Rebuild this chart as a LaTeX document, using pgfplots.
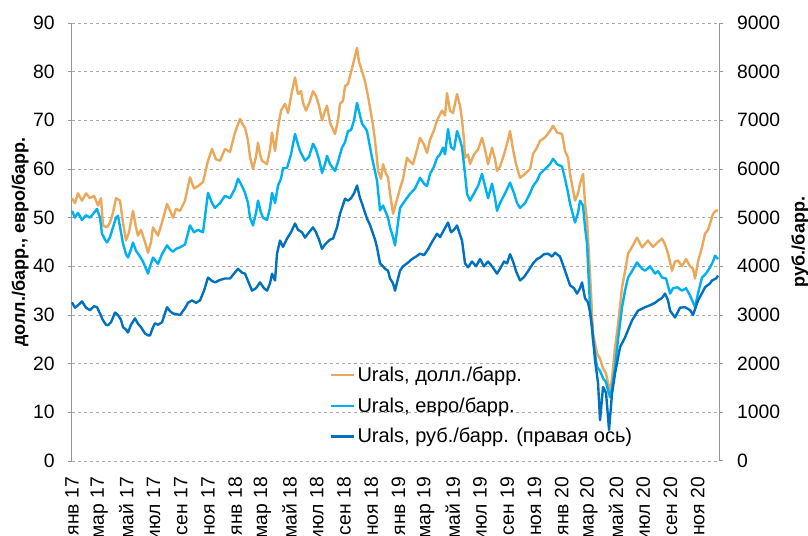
\documentclass[border=0pt]{standalone}
\usepackage{fontspec}
\setmainfont{Liberation Sans}
\usepackage{pgfplots}
\usepackage{pgfplotstable}
\pgfplotsset{compat=1.18}

\definecolor{uralsUsd}{RGB}{233,168,90}
\definecolor{uralsEur}{RGB}{0,176,240}
\definecolor{uralsRub}{RGB}{0,112,192}
\definecolor{gridGray}{RGB}{170,170,170}
\definecolor{axisGray}{RGB}{150,150,150}

% pos = horizontal position (72 = 1 Jan 2017, 13.6 per month)
\pgfplotstableread{
pos val
72 54
75 53
78 55
82 53.5
86 55
90 54
94 54.5
98 52.5
101 54
103 48.4
107 48
110 49
113 51
116 54
120 53.5
123 49
126 45.3
129 47
133 51.4
136 48
138 46.3
141 47.5
145 45
148 42.8
151 45
153 48
156 47
158 46.3
162 49
167 52.8
170 51.5
173 50
176 51.8
180 51.4
185 53.5
190 58.3
194 56
198 56.5
203 57.3
208 61.7
212 64.1
216 62
220 61.7
225 64.1
230 63.5
235 67.5
240 70.3
243 69
245 68.5
248 65.8
250 62.5
253 60
256 62.5
258 65.4
260 63
262 61.7
267 61
270 64
272 67.5
275 63.7
278 68.5
281 72
285 73.4
288 71.5
292 76
295 78.8
298 75.4
301 76
303 73.6
306 72
310 74
313 76
316 75
319 73
322 70
325 72
327 73
330 69.5
335 67.2
338 70
340 73.4
343 74
345 77
348 77.5
350 79.1
353 81.5
357 84.9
359 82
362 80.1
365 78
367 76
370 72.6
373 69
375 65.8
377 62
378 59.6
381 58
383 61
386 59
388 58.3
390 55
393 50.8
396 53
400 56
403 58
407 62.3
410 61.5
413 61
417 64
420 66.4
424 65
427 63.3
430 66
434 68
437 70
442 72
445 71
447 75.6
450 72
453 71.5
457 75.4
460 73
462 70
464 66
465 62.3
468 63
470 61
474 63
478 64
482 66.4
485 64
488 61
492 64.4
495 62
497 59.6
500 60.5
504 63
508 66
510 67.8
513 64
516 61
520 58.2
525 59
530 60
533 63.1
537 64.4
540 65.8
545 66.5
550 67.8
553 68.9
557 67.5
562 67.2
565 63.7
568 62.3
570 59
575 53.5
578 55
580 57
583 59
585 53
587 49.4
590 38.5
593 26.2
597 22.1
600 21
603 19
606 18
608 16
610 14.1
612 17
615 23.4
618 28
622 35.7
625 39
628 42.6
632 44
637 45.9
642 43.9
648 45.3
653 44
658 45
662 45.7
665 44.5
668 42.6
672 39.1
675 41
678 41.2
682 40
686 41.5
690 40
693 39.5
695 37.5
698 41
702 44
705 46.7
708 47.5
710 48.8
713 50.8
716 51.5
718 51.4
}\usdtable

\pgfplotstableread{
pos val
72 51.4
75 50
78 51
82 49.5
86 50.5
90 50
94 51
97 51.8
100 50
102 46.7
105 45.5
107 44.9
110 46
113 48
116 50
118 50.4
121 47
123 44.7
126 42.5
128 41.8
131 43.5
133 44.9
136 43.2
140 42
143 41
146 39.5
148 38.5
150 40
153 41.8
156 41
158 40.5
162 42.5
167 44.3
170 43.5
173 43
176 43.6
180 43.9
185 44.5
190 48.4
194 47
198 47.5
203 47
208 55.1
212 53
215 52
220 53
225 54.5
230 54
235 56
238 58
242 56.5
245 55.1
248 53
250 50
253 48.4
256 51
258 53.5
261 51
263 50
267 49.5
270 52
272 55.1
275 53
278 56.6
281 58
283 60.2
287 60.2
291 63
295 67.2
298 65
300 63.7
303 62.5
305 61.7
309 62.5
313 65.2
316 64
319 62
322 59.2
325 61
327 62.7
330 61
335 59.6
338 61.5
342 64.4
345 65.5
348 67.8
351 68
354 70
357 73.6
360 71
362 69.3
365 68.5
367 67.8
370 64.5
372 62.3
375 59.5
377 57.6
380 51.5
383 52.5
386 51
388 50
390 48
393 46
395 44.3
398 49
400 52
405 53.5
410 54.9
415 56
420 58.2
424 57
427 56.5
430 59
434 60.5
437 62.3
440 63
443 64.4
445 63
448 68.2
451 64.5
454 64
457 67.8
460 66
462 64.4
465 59
467 54.9
470 53.5
474 55
478 56.5
482 59
485 56.5
488 54
492 57
495 54
497 51.4
500 53
505 55
510 57.2
514 55
517 53
520 52
525 53
530 55
533 56.5
537 57.6
540 59
545 60
550 61
553 62.1
557 61
562 60.5
565 58
568 55.1
570 52.9
575 49
578 51
580 53.5
583 52.5
585 48
587 44.7
590 31.6
593 24.8
597 19.3
600 18.5
603 17
606 16.2
608 14.5
610 13.1
612 15
615 19.3
618 25
622 31.6
625 35
628 37.7
632 39
637 40.8
642 39.5
645 39.1
650 40
655 38.5
658 39
662 37.7
666 37.5
670 34.4
673 35.5
677 35.7
682 35
686 35.5
690 34
695 31.6
698 34.5
702 37.7
706 38.5
710 39.8
713 41
715 42.2
718 41.5
}\eurtable

\pgfplotstableread{
pos val
72 3260
75 3150
78 3200
82 3280
86 3150
90 3100
94 3180
97 3160
100 3030
103 2890
106 2800
108 2790
111 2850
115 3050
118 3000
121 2900
123 2750
126 2700
128 2640
131 2800
135 2930
138 2820
141 2750
145 2620
148 2580
150 2580
153 2750
155 2830
158 2800
162 2850
167 3160
170 3080
173 3030
176 3020
180 3000
185 3140
188 3250
192 3300
196 3250
200 3300
204 3500
208 3770
212 3700
215 3670
220 3720
225 3750
230 3750
234 3850
238 3950
242 3870
245 3850
248 3700
252 3500
256 3550
260 3670
264 3550
267 3500
270 3650
272 3850
275 3710
277 4260
280 4530
283 4400
287 4570
291 4700
295 4880
298 4750
302 4700
305 4590
309 4700
313 4800
316 4700
319 4550
322 4360
325 4450
330 4550
333 4570
337 4800
340 5080
345 5390
348 5350
351 5400
354 5500
357 5660
360 5400
362 5290
365 5100
367 4980
370 4850
372 4730
375 4550
377 4390
380 4060
383 4000
385 3950
388 3910
390 3750
393 3650
395 3500
398 3750
400 3910
403 4000
407 4060
412 4150
416 4200
420 4260
424 4230
428 4350
432 4500
437 4670
440 4600
444 4750
448 4900
451 4700
454 4750
457 4840
460 4650
462 4530
465 4060
468 3980
472 4100
476 4000
480 4150
484 4000
488 4100
492 4000
497 3850
500 3950
504 4100
507 4060
510 4250
513 4100
516 3900
520 3710
524 3780
528 3900
533 4060
537 4150
540 4180
544 4250
548 4260
552 4200
555 4280
560 4200
565 3910
570 3610
574 3550
577 3440
580 3550
582 3670
585 3340
588 3260
590 3050
592 2750
595 2070
598 1600
600 840
603 1520
606 1400
609 640
612 1390
615 1800
620 2340
625 2540
632 2890
638 3090
645 3160
650 3200
655 3250
658 3300
662 3350
665 3440
668 3300
670 3090
675 2950
680 3150
685 3160
690 3100
693 3000
698 3300
702 3450
705 3570
710 3650
712 3710
716 3750
718 3810
}\rubtable

\pgfplotsset{
  uralsbase/.style={
    scale only axis,
    width=485.25pt, height=328.5pt,
    at={(0,0)}, anchor=south west,
    xmin=0, xmax=47.57,
    x filter/.expression={(x-72)/13.6},
    font=\fontsize{14.5}{17}\selectfont,
    /pgf/number format/assume math mode=true,
    /pgf/number format/1000 sep={},
    tick align=outside,
    major tick length=3pt,
    ytick style={draw=axisGray, line width=0.75pt},
    y axis line style={draw=axisGray, line width=0.75pt},
    clip=false,
  }
}

\begin{document}
\begin{tikzpicture}
\begin{axis}[
    uralsbase,
    axis x line*=bottom, axis y line*=left,
    x axis line style={draw=none},
    x tick style={draw=none},
    ymin=0, ymax=90, ytick={0,10,...,90},
    xtick={0,2,...,46},
    xticklabels={янв 17,мар 17,май 17,июл 17,сен 17,ноя 17,
      янв 18,мар 18,май 18,июл 18,сен 18,ноя 18,
      янв 19,мар 19,май 19,июл 19,сен 19,ноя 19,
      янв 20,мар 20,май 20,июл 20,сен 20,ноя 20},
    xticklabel style={rotate=90, anchor=east},
    xticklabel shift=5.5pt,
    yticklabel shift=6.5pt,
    ymajorgrids,
    grid style={draw=gridGray, line width=0.75pt, dash pattern=on 2.25pt off 2.25pt},
    ylabel={\bfseries долл./барр., евро/барр.},
    ylabel style={at={(axis description cs:-0.080,0.5)}, anchor=center,
      font=\fontsize{13.5}{16}\selectfont},
  ]
  \addplot[uralsUsd, line width=1.8pt, line join=round] table[x=pos, y=val] {\usdtable};
  \addplot[uralsEur, line width=1.8pt, line join=round] table[x=pos, y=val] {\eurtable};
\end{axis}
\begin{axis}[
    uralsbase,
    axis x line=none, axis y line*=right,
    ymin=0, ymax=9000, ytick={0,1000,...,9000},
    yticklabel shift=7pt,
    ylabel={\bfseries руб./барр.},
    ylabel style={at={(axis description cs:1.125,0.5)}, anchor=center,
      font=\fontsize{13.5}{16}\selectfont},
    legend style={at={(axis description cs:0.398,0.222)}, anchor=north west,
      draw=none, fill=none, inner sep=0pt, row sep=6.5pt,
      font=\fontsize{15}{17}\selectfont},
    legend cell align=left,
    legend image code/.code={\draw[#1] (0pt,0pt) -- (17pt,0pt);},
  ]
  \addlegendimage{uralsUsd, line width=1.8pt}
  \addlegendimage{uralsEur, line width=1.8pt}
  \addplot[uralsRub, line width=1.8pt, line join=round] table[x=pos, y=val] {\rubtable};
  \legend{{Urals, долл./барр.},{Urals, евро/барр.},{Urals, руб./барр. (правая ось)}}
\end{axis}
\pgfresetboundingbox
\useasboundingbox (-54pt,-56.25pt) rectangle (552pt,345.75pt);
\end{tikzpicture}
\end{document}
